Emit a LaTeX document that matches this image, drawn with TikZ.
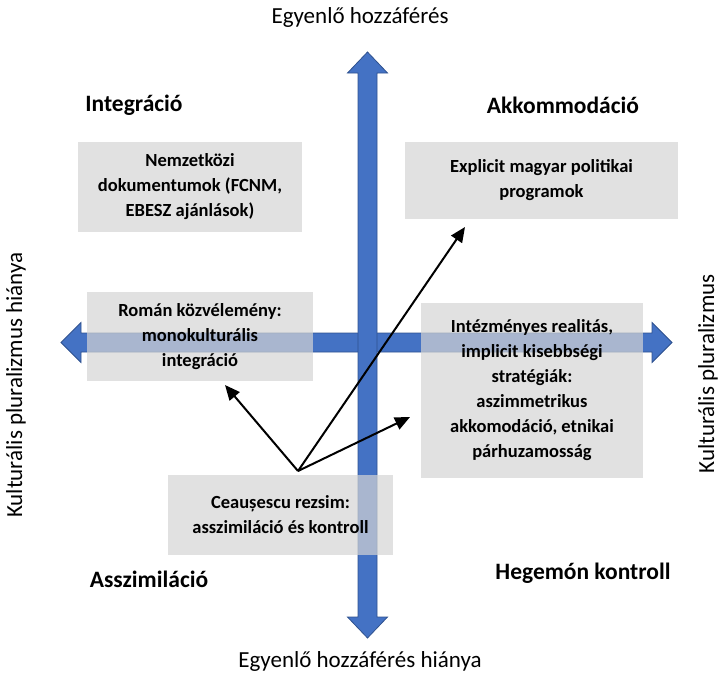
\documentclass[tikz,border=0pt]{standalone}
\usepackage{fontspec}
\setmainfont{Carlito}
\usetikzlibrary{arrows.meta,positioning,calc}
\definecolor{axisblue}{RGB}{68,114,196}
\definecolor{axisedge}{RGB}{47,82,143}
\definecolor{boxgray}{RGB}{212,212,212}

\begin{document}
\begin{tikzpicture}[x=1pt,y=-1pt,
  policy/.style={
    rectangle, fill=boxgray, fill opacity=0.7, text opacity=1,
    align=center, inner sep=0pt,
    font=\fontsize{18.5}{25}\selectfont\bfseries
  },
  quadrant/.style={font=\fontsize{23.5}{28}\selectfont\bfseries},
  axislabel/.style={font=\fontsize{23}{28}\selectfont, inner sep=1pt},
  blockarrow/.style={fill=axisblue, draw=axisedge, line width=0.8pt},
  link/.style={-{Triangle[length=15pt,width=13pt]}, line width=2pt}
]
\useasboundingbox (0,0) rectangle (722,675);

% Axes as block arrows
\draw[blockarrow] (61,342.5) -- (81,322.5) -- (81,333) -- (652,333) -- (652,322.5)
  -- (672,342.5) -- (652,362.5) -- (652,352) -- (81,352) -- (81,362.5) -- cycle;
\draw[blockarrow] (367.5,52) -- (387.5,73) -- (377,73) -- (377,617) -- (387.5,617)
  -- (367.5,638) -- (347.5,617) -- (358,617) -- (358,73) -- (347.5,73) -- cycle;

% Axis labels
\node[axislabel] (top) at (360,17) {Egyenlő hozzáférés};
\node[axislabel] (bottom) at (360,661) {Egyenlő hozzáférés hiánya};
\node[axislabel, rotate=90] (left) at (16,385) {Kulturális pluralizmus hiánya};
\node[axislabel, rotate=90] (right) at (708,374) {Kulturális pluralizmus};

% Quadrant names
\node[quadrant] (integr) at (134,105) {Integráció};
\node[quadrant] (akkom) at (563,105) {Akkommodáció};
\node[quadrant] (asszim) at (149,579) {Asszimiláció};
\node[quadrant] (hegem) at (583,573) {Hegemón kontroll};

% Policy boxes
\node[policy, minimum width=224, minimum height=90] (nemzet) at (190,187)
  {Nemzetközi\\dokumentumok (FCNM,\\EBESZ ajánlások)};
\node[policy, minimum width=273, minimum height=77] (explicit) at (541.5,180.5)
  {Explicit magyar politikai\\programok};
\node[policy, minimum width=226, minimum height=89] (roman) at (200,336.5)
  {Román közvélemény:\\monokulturális\\integráció};
\node[policy, minimum width=222, minimum height=175] (intezm) at (532,390.5)
  {Intézményes realitás,\\implicit kisebbségi\\stratégiák:\\aszimmetrikus\\akkomodáció, etnikai\\párhuzamosság};
\node[policy, minimum width=225, minimum height=80] (ceau) at (280.5,515)
  {Ceaușescu rezsim:\\asszimiláció és kontroll};

% Arrows from the Ceausescu box
\coordinate (src) at (298,471);
\coordinate (toRoman) at (225,385);
\coordinate (toExplicit) at (465,227);
\coordinate (toIntezm) at (410,417);
\draw[link] (src) -- (toRoman);
\draw[link] (src) -- (toExplicit);
\draw[link] (src) -- (toIntezm);

\end{tikzpicture}
\end{document}
